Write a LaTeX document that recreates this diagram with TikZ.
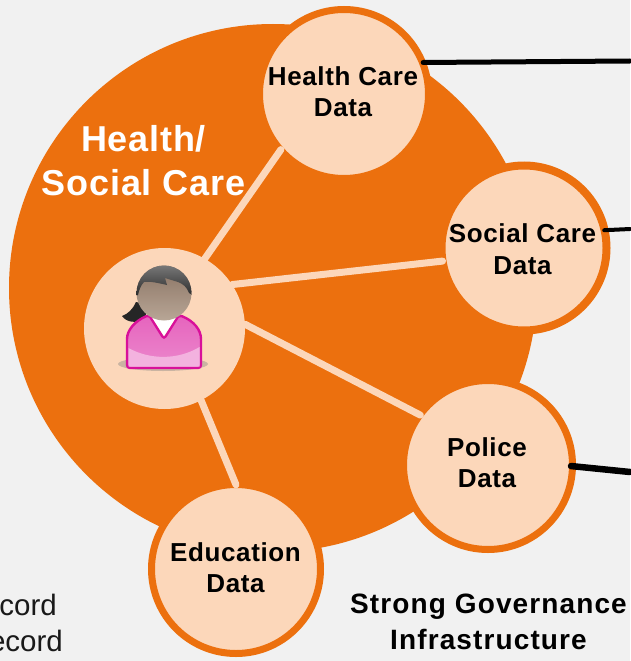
\documentclass[tikz,border=0pt]{standalone}
\usepackage{fontspec}
\setmainfont{Liberation Sans}
\newfontfamily\lblfont[LetterSpace=2.4]{Liberation Sans}
\newfontfamily\ttlfont[LetterSpace=2.2]{Liberation Sans}
\newfontfamily\capfont[LetterSpace=4]{Liberation Sans}
\usetikzlibrary{backgrounds}
\definecolor{bgc}{HTML}{F1F1F1}
\definecolor{org}{HTML}{EC700E}
\definecolor{pch}{HTML}{FCD7BA}
\definecolor{pnk}{HTML}{D8109A}
\definecolor{headt}{HTML}{8A7363}
\definecolor{headb}{HTML}{B8A696}
\tikzset{
 x=1pt,y=-1pt,
 datac/.style={circle,draw=org,line width=7pt,fill=pch,minimum size=169pt,inner sep=0pt},
 datat/.style={align=center,inner sep=0pt,font=\lblfont\fontsize{26}{31.5}\selectfont\bfseries},
 spoke/.style={draw=pch,line width=7pt,line cap=round,shorten >=-4pt},
 wire/.style={draw=black,line cap=round},
}
\begin{document}
\begin{tikzpicture}
\useasboundingbox (0,0) rectangle (630,661);
\coordinate (hw) at (630,61);
\coordinate (sw) at (630,229);
\coordinate (pw) at (630,472);
\node[datac] (health) at (344,94) {};
\node[datac,minimum size=165pt,line width=8pt] (social) at (524,248) {};
\node[datac] (police) at (488,465) {};
\node[datac] (edu) at (236,569) {};
\node[circle,fill=pch,minimum size=161pt,inner sep=0pt] (person) at (164.5,328.5) {};
\begin{scope}[on background layer]
\fill[bgc] (0,0) rectangle (630,661);
\node[circle,fill=org,minimum size=528pt,inner sep=0pt] (big) at (273,288) {};
\end{scope}
\node[datat] (healthl) at (343,91.5) {Health Care\\Data};
\node[datat] (sociall) at (522.5,249) {Social Care\\Data};
\node[datat] (policel) at (487,462.5) {Police\\Data};
\node[datat] (edul) at (235.5,567.5) {Education\\Data};
\draw[spoke] (person.60) -- (health.222);
\draw[spoke] (person.33) -- (social.189);
\draw[spoke] (person.3.5) -- (police.144.4);
\draw[spoke] (person.-63.4) -- (edu.91.4);
\draw[wire,line width=5pt,shorten <=-3pt] (health.21.5) -- (hw);
\draw[wire,line width=4pt,shorten <=-4.4pt] (social.12.7) -- (sw);
\draw[wire,line width=6.5pt,shorten <=-5pt] (police.-1.3) -- (pw);
\node[align=center,inner sep=0pt,text=white,font=\ttlfont\fontsize{36}{44}\selectfont\bfseries] (title) at (143.5,161) {Health/\\Social Care};
\node[align=center,inner sep=0pt,font=\capfont\fontsize{28}{36}\selectfont\bfseries] (gov) at (488.5,622) {Strong Governance\\Infrastructure};
\node[anchor=base east,inner sep=0pt,text=black!90,font=\fontsize{29.5}{36}\selectfont] (r1) at (57,615) {cord};
\node[anchor=base east,inner sep=0pt,text=black!90,font=\fontsize{29.5}{36}\selectfont] (r2) at (63,651) {ecord};
% person icon
\fill[black!50,opacity=.4] (163,364) ellipse (45 and 7);
\fill[black!85] (136,302) .. controls (133,309) and (128,314) .. (122,316) .. controls (126,322) and (136,324) .. (144,319) -- (150,305) -- cycle;
\path[draw=pnk,line width=2.4pt,top color=pnk!65!white,bottom color=pnk!50!white,rounded corners=3pt] (127,368) -- (127,342) .. controls (127,330) and (135,321) .. (149,315) -- (164,339) -- (179,315) .. controls (194,321) and (201,330) .. (201,342) -- (201,368) -- cycle;
\fill[white] (150.5,315) -- (164,336) -- (177.5,315) -- cycle;
\fill[pnk!32!white] (128.5,348) .. controls (150,360) and (178,360) .. (199.5,347) -- (199.5,366.5) -- (128.5,366.5) -- cycle;
\path[top color=headt,bottom color=headb] (164,293) circle (27.5);
\begin{scope}
\clip (164,293) circle (27.5);
\path[top color=black!50,bottom color=black!85] (130,262) -- (198,262) -- (198,298) -- (189,293) .. controls (187,287) and (183,284) .. (178,282) -- (165,278) -- (167,285) .. controls (158,283) and (150,281) .. (144,282) .. controls (141,285) and (139,290) .. (138,295) -- (130,298) -- cycle;
\end{scope}
\end{tikzpicture}
\end{document}
